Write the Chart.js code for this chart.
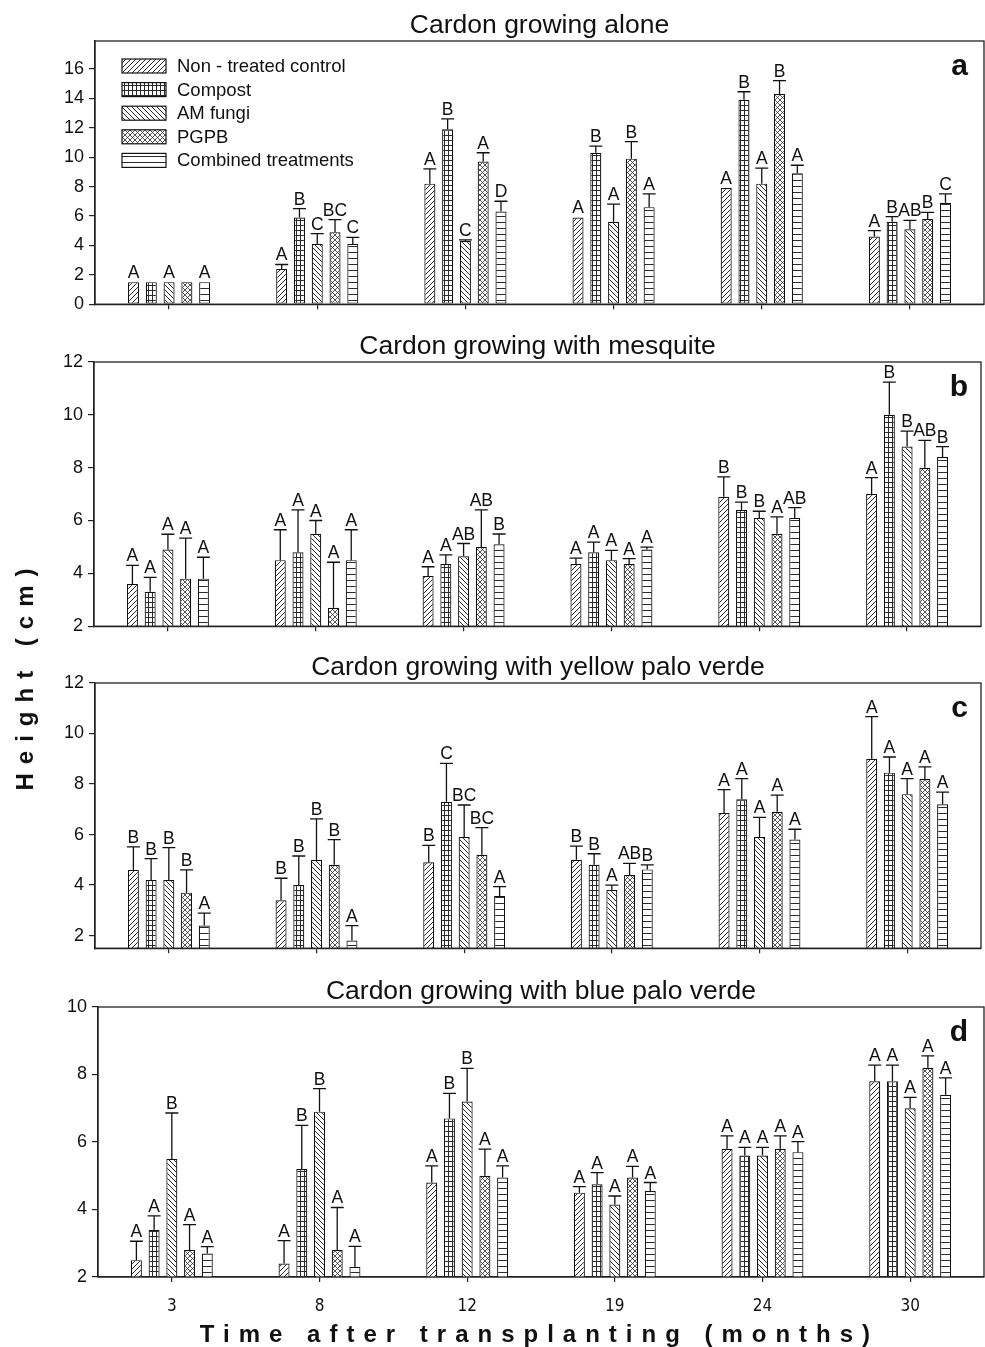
<!DOCTYPE html>
<html>
<head>
<meta charset="utf-8">
<script src="https://cdn.jsdelivr.net/npm/chart.js@4.4.1/dist/chart.umd.min.js"></script>
<style>
  body { margin: 0; background: #fff; width: 985px; height: 1347px; position: relative; overflow: hidden; }
  canvas { position: absolute; left: 0; }
  #ytitle {
    position: absolute; left: -124px; top: 660px; width: 300px; height: 30px; line-height: 30px;
    transform: rotate(-90deg); text-align: center;
    font: bold 24px "Liberation Sans", Arial, sans-serif; letter-spacing: 9px; color: #111;
  }
  #xtitle {
    position: absolute; left: 95px; width: 889px; top: 1320px; line-height: 26px; text-align: center;
    font: bold 24px "Liberation Sans Narrow", "Liberation Sans", Arial, sans-serif; letter-spacing: 9px; color: #111;
  }
</style>
</head>
<body>
<canvas id="panelA" width="985" height="320" style="top:0px"></canvas>
<canvas id="panelB" width="985" height="320" style="top:322px"></canvas>
<canvas id="panelC" width="985" height="319" style="top:645px"></canvas>
<canvas id="panelD" width="985" height="381" style="top:966px"></canvas>
<div id="ytitle">Height (cm)</div>
<div id="xtitle">Time after transplanting (months)</div>
<script>
// categorias e tratamentos
const months = ['3', '8', '12', '19', '24', '30'];
const treatments = ['Non - treated control', 'Compost', 'AM fungi', 'PGPB', 'Combined treatments'];

// a - Cardon growing alone
const aloneMeans = [
    [1.5, 2.4, 8.2, 5.9, 7.9, 4.6],
    [1.5, 5.9, 11.9, 10.3, 13.9, 5.6],
    [1.5, 4.1, 4.3, 5.6, 8.2, 5.1],
    [1.5, 4.9, 9.7, 9.9, 14.3, 5.8],
    [1.5, 4.1, 6.3, 6.6, 8.9, 6.9]
];
const aloneErrors = [
    [0, 0.3, 1.0, 0, 0, 0.4],
    [0, 0.6, 0.7, 0.45, 0.55, 0.35],
    [0, 0.7, 0.08, 1.2, 1.05, 0.6],
    [0, 0.85, 0.6, 1.15, 0.9, 0.45],
    [0, 0.45, 0.7, 0.9, 0.55, 0.6]
];
const aloneLetters = [
    ['A', 'A', 'A', 'A', 'A', 'A'],
    ['', 'B', 'B', 'B', 'B', 'B'],
    ['A', 'C', 'C', 'A', 'A', 'AB'],
    ['', 'BC', 'A', 'B', 'B', 'B'],
    ['A', 'C', 'D', 'A', 'A', 'C']
];
const aloneTicks = [0, 2, 4, 6, 8, 10, 12, 14, 16];

// b - Cardon growing with mesquite
const mesquiteMeans = [
    [3.6, 4.5, 3.9, 4.35, 6.9, 7.0],
    [3.3, 4.8, 4.35, 4.8, 6.4, 10.0],
    [4.9, 5.5, 4.65, 4.5, 6.1, 8.8],
    [3.8, 2.7, 5.0, 4.35, 5.5, 8.0],
    [3.8, 4.5, 5.1, 4.9, 6.1, 8.4]
];
const mesquiteErrors = [
    [0.7, 1.15, 0.35, 0.23, 0.75, 0.62],
    [0.55, 1.6, 0.35, 0.38, 0.3, 1.24],
    [0.58, 0.5, 0.48, 0.37, 0.25, 0.58],
    [1.53, 1.72, 1.4, 0.21, 0.64, 1.03],
    [0.81, 1.15, 0.39, 0.09, 0.39, 0.4]
];
const mesquiteLetters = [
    ['A', 'A', 'A', 'A', 'B', 'A'],
    ['A', 'A', 'A', 'A', 'B', 'B'],
    ['A', 'A', 'AB', 'A', 'B', 'B'],
    ['A', 'A', 'AB', 'A', 'A', 'AB'],
    ['A', 'A', 'B', 'A', 'AB', 'B']
];
const mesquiteTicks = [2, 4, 6, 8, 10, 12];

// c - Cardon growing with yellow palo verde
const yellowMeans = [
    [4.6, 3.4, 4.9, 5.0, 6.85, 9.0],
    [4.2, 4.0, 7.3, 4.8, 7.4, 8.45],
    [4.2, 5.0, 5.9, 3.8, 5.9, 7.6],
    [3.7, 4.8, 5.2, 4.4, 6.9, 8.2],
    [2.4, 1.8, 3.57, 4.62, 5.8, 7.2]
];
const yellowErrors = [
    [0.91, 0.87, 0.67, 0.54, 0.93, 1.67],
    [0.85, 1.15, 1.52, 0.44, 0.81, 0.62],
    [1.28, 1.62, 1.27, 0.2, 0.78, 0.61],
    [0.9, 1.0, 1.07, 0.46, 0.66, 0.48],
    [0.49, 0.59, 0.37, 0.18, 0.41, 0.48]
];
const yellowLetters = [
    ['B', 'B', 'B', 'B', 'A', 'A'],
    ['B', 'B', 'C', 'B', 'A', 'A'],
    ['B', 'B', 'BC', 'A', 'A', 'A'],
    ['B', 'B', 'BC', 'AB', 'A', 'A'],
    ['A', 'A', 'A', 'B', 'A', 'A']
];
const yellowTicks = [2, 4, 6, 8, 10, 12];

// d - Cardon growing with blue palo verde
const blueMeans = [
    [2.5, 2.4, 4.8, 4.5, 5.8, 7.8],
    [3.4, 5.2, 6.7, 4.75, 5.6, 7.8],
    [5.5, 6.9, 7.2, 4.15, 5.6, 7.0],
    [2.8, 2.8, 5.0, 4.95, 5.8, 8.2],
    [2.7, 2.3, 4.95, 4.55, 5.7, 7.4]
];
const blueErrors = [
    [0.56, 0.68, 0.49, 0.18, 0.38, 0.48],
    [0.41, 1.29, 0.74, 0.34, 0.24, 0.48],
    [1.36, 0.68, 0.98, 0.25, 0.24, 0.32],
    [0.75, 1.26, 0.79, 0.33, 0.38, 0.35],
    [0.2, 0.61, 0.34, 0.25, 0.31, 0.5]
];
const blueLetters = [
    ['A', 'A', 'A', 'A', 'A', 'A'],
    ['A', 'B', 'B', 'A', 'A', 'A'],
    ['B', 'B', 'B', 'A', 'A', 'A'],
    ['A', 'A', 'A', 'A', 'A', 'A'],
    ['A', 'A', 'A', 'A', 'A', 'A']
];
const blueTicks = [2, 4, 6, 8, 10];

const FONT = '"Liberation Sans", Arial, sans-serif';
const INK = '#111';

// hachuras de cada tratamento
function criarHachura(tipo) {
    const c = document.createElement('canvas');
    const w = tipo === 'grid' ? 4 : (tipo === 'horiz' ? 6 : 5);
    const h = tipo === 'grid' ? 5 : w;
    c.width = w; c.height = h;
    const g = c.getContext('2d');
    g.fillStyle = '#fff';
    g.fillRect(0, 0, w, h);
    g.strokeStyle = '#2a2a2a';
    g.lineWidth = tipo === 'cross' ? 0.8 : 1;
    g.beginPath();
    if (tipo === 'fwd' || tipo === 'cross') {
        g.moveTo(-1, h + 1); g.lineTo(w + 1, -1);
        g.moveTo(-1, 1); g.lineTo(1, -1);
        g.moveTo(w - 1, h + 1); g.lineTo(w + 1, h - 1);
    }
    if (tipo === 'back' || tipo === 'cross') {
        g.moveTo(-1, -1); g.lineTo(w + 1, h + 1);
        g.moveTo(w - 1, -1); g.lineTo(w + 1, 1);
        g.moveTo(-1, h - 1); g.lineTo(1, h + 1);
    }
    if (tipo === 'grid') {
        g.moveTo(0.5, 0); g.lineTo(0.5, h);
        g.moveTo(0, 0.5); g.lineTo(w, 0.5);
    }
    if (tipo === 'horiz') {
        g.moveTo(0, 0.5); g.lineTo(w, 0.5);
    }
    g.stroke();
    return g.createPattern(c, 'repeat');
}
const hachuras = ['fwd', 'grid', 'back', 'cross', 'horiz'].map(criarHachura);

// barras de erro, letras, moldura, título e legenda
const decoracaoPainel = {
    id: 'decoracaoPainel',
    afterDatasetsDraw(chart) {
        const ctx = chart.ctx;
        const y = chart.scales.y;
        chart.data.datasets.forEach((ds, i) => {
            chart.getDatasetMeta(i).data.forEach((bar, j) => {
                const err = ds.errors[j];
                const top = y.getPixelForValue(ds.data[j] + err);
                ctx.save();
                ctx.strokeStyle = INK;
                ctx.lineWidth = 1.3;
                if (err > 0) {
                    ctx.beginPath();
                    ctx.moveTo(bar.x, bar.y);
                    ctx.lineTo(bar.x, top);
                    ctx.moveTo(bar.x - 6.5, top);
                    ctx.lineTo(bar.x + 6.5, top);
                    ctx.stroke();
                }
                if (ds.letters[j]) {
                    ctx.fillStyle = INK;
                    ctx.font = '17.5px ' + FONT;
                    ctx.textAlign = 'center';
                    ctx.textBaseline = 'alphabetic';
                    ctx.fillText(ds.letters[j], bar.x, top - 4);
                }
                ctx.restore();
            });
        });
    },
    afterDraw(chart, args, opts) {
        const ctx = chart.ctx;
        const a = chart.chartArea;
        ctx.save();
        ctx.strokeStyle = '#222';
        ctx.lineWidth = 1.3;
        ctx.strokeRect(a.left, a.top, a.right - a.left, a.bottom - a.top);

        ctx.fillStyle = INK;
        ctx.font = '26.5px ' + FONT;
        ctx.textAlign = 'center';
        ctx.textBaseline = 'alphabetic';
        ctx.fillText(opts.titulo, (a.left + a.right) / 2, a.top - 8);

        ctx.font = 'bold 30px ' + FONT;
        ctx.textAlign = 'right';
        ctx.fillText(opts.letra, 968, a.top + 34);

        if (opts.legenda) {
            ctx.font = '18.5px ' + FONT;
            ctx.textAlign = 'left';
            ctx.textBaseline = 'middle';
            chart.data.datasets.forEach((ds, i) => {
                const cy = a.top + 25 + i * 23.6;
                const x0 = a.left + 27;
                ctx.fillStyle = ds.backgroundColor;
                ctx.fillRect(x0, cy - 7, 44, 14);
                ctx.lineWidth = 1.2;
                ctx.strokeStyle = INK;
                ctx.strokeRect(x0, cy - 7, 44, 14);
                ctx.fillStyle = INK;
                ctx.fillText(ds.label, x0 + 55, cy + 1);
            });
        }
        ctx.restore();
    }
};

function criarPainel(id, medias, erros, letras, ticks, opcoes) {
    const ctx = document.getElementById(id).getContext('2d');
    return new Chart(ctx, {
        type: 'bar',
        data: {
            labels: months,
            datasets: treatments.map((nome, i) => ({
                label: nome,
                data: medias[i],
                errors: erros[i],
                letters: letras[i],
                backgroundColor: hachuras[i],
                borderColor: INK,
                borderWidth: 1.2,
                borderSkipped: false
            }))
        },
        options: {
            responsive: false,
            animation: false,
            devicePixelRatio: 1,
            categoryPercentage: 0.6,
            barPercentage: 0.62,
            layout: { padding: { top: opcoes.topo, right: 985 - opcoes.direita, left: 0, bottom: 0 } },
            plugins: {
                legend: { display: false },
                tooltip: { enabled: false },
                decoracaoPainel: { titulo: opcoes.titulo, letra: opcoes.letra, legenda: opcoes.legenda }
            },
            scales: {
                x: {
                    grid: { offset: false, drawOnChartArea: false, tickLength: 5, color: '#222', lineWidth: 1.2 },
                    border: { color: '#222', width: 1.3 },
                    ticks: {
                        display: opcoes.rotulosX,
                        color: INK,
                        padding: 14,
                        maxRotation: 0,
                        font: { family: '"Liberation Sans Narrow", "DejaVu Sans Condensed", "Liberation Sans", sans-serif', size: 17 }
                    },
                    afterFit: (s) => { s.height = opcoes.alturaX; }
                },
                y: {
                    min: opcoes.min,
                    max: opcoes.max,
                    grid: { drawOnChartArea: false, tickLength: 6, color: '#222', lineWidth: 1.2 },
                    border: { color: '#222', width: 1.3 },
                    ticks: { color: INK, padding: 5, font: { family: FONT, size: 18 } },
                    afterBuildTicks: (s) => { s.ticks = ticks.map(v => ({ value: v })); },
                    afterFit: (s) => { s.width = opcoes.esquerda; }
                }
            }
        },
        plugins: [decoracaoPainel]
    });
}

criarPainel('panelA', aloneMeans, aloneErrors, aloneLetters, aloneTicks,
    { titulo: 'Cardon growing alone', letra: 'a', legenda: true, topo: 41, esquerda: 95, direita: 984, alturaX: 12, rotulosX: false, min: 0, max: 17.9 });
criarPainel('panelB', mesquiteMeans, mesquiteErrors, mesquiteLetters, mesquiteTicks,
    { titulo: 'Cardon growing with mesquite', letra: 'b', legenda: false, topo: 40, esquerda: 94, direita: 981, alturaX: 12, rotulosX: false, min: 2, max: 12 });
criarPainel('panelC', yellowMeans, yellowErrors, yellowLetters, yellowTicks,
    { titulo: 'Cardon growing with yellow palo verde', letra: 'c', legenda: false, topo: 38, esquerda: 95, direita: 981, alturaX: 12, rotulosX: false, min: 1.5, max: 12 });
criarPainel('panelD', blueMeans, blueErrors, blueLetters, blueTicks,
    { titulo: 'Cardon growing with blue palo verde', letra: 'd', legenda: false, topo: 41, esquerda: 98, direita: 984, alturaX: 70, rotulosX: true, min: 2, max: 10 });
</script>
</body>
</html>
